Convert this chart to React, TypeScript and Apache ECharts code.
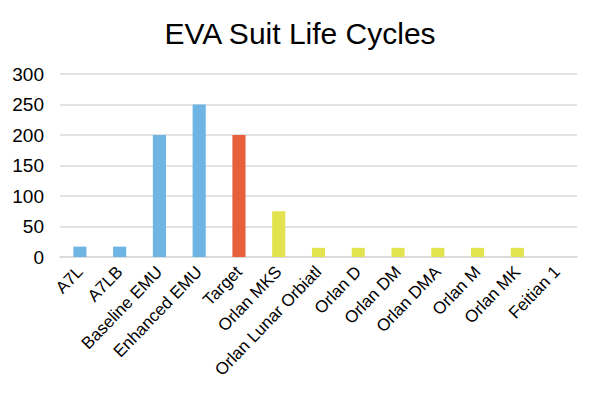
import React, { useEffect, useRef } from "react";
import * as echarts from "echarts";

const categories = [
  "A7L",
  "A7LB",
  "Baseline EMU",
  "Enhanced EMU",
  "Target",
  "Orlan MKS",
  "Orlan Lunar Orbiatl",
  "Orlan D",
  "Orlan DM",
  "Orlan DMA",
  "Orlan M",
  "Orlan MK",
  "Feitian 1",
];
const values = [17, 17, 200, 250, 200, 75, 15, 15, 15, 15, 15, 15, 0];
const colors = [
  "#6EB5E3", "#6EB5E3", "#6EB5E3", "#6EB5E3",
  "#E5603B",
  "#E3E34F", "#E3E34F", "#E3E34F", "#E3E34F", "#E3E34F", "#E3E34F", "#E3E34F", "#E3E34F",
];

export default function App() {
  const ref = useRef<HTMLDivElement>(null);
  useEffect(() => {
    const chart = echarts.init(ref.current!, null, { renderer: "svg" });
    chart.setOption({
      animation: false,
      title: {
        text: "EVA Suit Life Cycles",
        left: "center",
        top: 13,
        textStyle: { fontFamily: "Liberation Sans", fontSize: 30, fontWeight: "normal", color: "#000" },
      },
      grid: { left: 60, right: 23, top: 74, bottom: 141 },
      xAxis: {
        type: "category",
        data: categories,
        axisTick: { show: false },
        axisLine: { lineStyle: { color: "#d9d9d9", width: 1.5 } },
        axisLabel: {
          rotate: 46,
          interval: 0,
          color: "#000",
          fontFamily: "Liberation Sans",
          fontSize: 17,
          margin: 12,
        },
      },
      yAxis: {
        type: "value",
        min: 0,
        max: 300,
        interval: 50,
        axisLabel: { color: "#000", fontFamily: "Liberation Sans", fontSize: 19, margin: 16 },
        splitLine: { lineStyle: { color: "#d9d9d9", width: 1.5 } },
        axisLine: { show: false },
        axisTick: { show: false },
      },
      series: [
        {
          type: "bar",
          barWidth: "33%",
          data: values.map((v, i) => ({ value: v, itemStyle: { color: colors[i] } })),
        },
      ],
    });
    return () => chart.dispose();
  }, []);
  return <div ref={ref} style={{ position: "absolute", left: 0, top: 0, width: 600, height: 398 }} />;
}
